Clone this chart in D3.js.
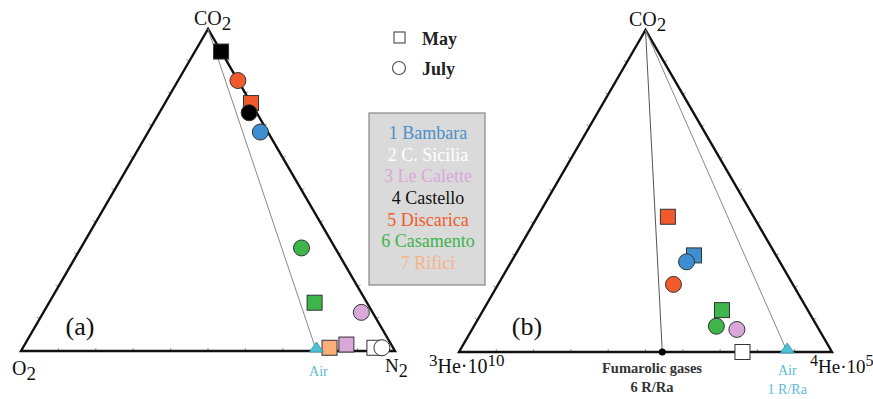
<!DOCTYPE html>
<html>
<head>
<meta charset="utf-8">
<script src="https://cdn.jsdelivr.net/npm/d3@7"></script>
<style>
  body { margin: 0; background: #fff; }
  svg { display: block; }
  text { font-family: "Liberation Serif", "DejaVu Serif", serif; }
</style>
</head>
<body>
<svg width="873" height="399"></svg>
<script>
// sites and their colours
const sites = ["1 Bambara", "2 C. Sicilia", "3 Le Calette", "4 Castello", "5 Discarica", "6 Casamento", "7 Rifici"];
const siteColors = ["#3d8fd1", "#ffffff", "#d9a7d9", "#000000", "#f15a2b", "#3db54a", "#fbae78"];
const legendText = ["#4a8fc9", "#ffffff", "#d8a8dc", "#111111", "#f05a2a", "#3cb54a", "#f8b388"];

// (a) CO2 - O2 - N2 (%), site index
const mayA = [ // [site, CO2, O2, N2]
  [3, 93, 0, 7],
  [4, 77, 0, 23],
  [5, 15, 14, 71],
  [6, 1, 17, 82],
  [2, 2, 12, 86],
  [1, 1, 5, 94]
];
const julyA = [
  [4, 84, 0, 16],
  [3, 74, 2, 24],
  [0, 68, 2, 30],
  [5, 32, 9, 59],
  [2, 12, 3, 85],
  [1, 1, 3, 96]
];
const airA = [0, 21, 79];

// (b) CO2 - 3He*10^10 - 4He*10^5 (%)
const mayB = [ // [site, CO2, 3He, 4He]
  [4, 42, 23, 35],
  [0, 30, 22, 48],
  [5, 13, 23, 64],
  [1, 0, 24, 76]
];
const julyB = [
  [0, 28, 25, 47],
  [4, 21, 32, 47],
  [5, 8, 27, 65],
  [2, 7, 22, 71]
];
const airB = [0, 12, 88];
const fumarolicB = [0, 45.5, 54.5];

const svg = d3.select("svg");

function ternary(left, right, bottom, top) {
  const x = d3.scaleLinear().domain([0, 100]).range([left, right]);
  const y = d3.scaleLinear().domain([0, 100]).range([bottom, top]);
  // v = [top, bottomLeft, bottomRight]
  const pos = v => {
    const s = v[0] + v[1] + v[2];
    const a = v[0] / s * 100, c = v[2] / s * 100;
    return [x(c + a / 2), y(a)];
  };
  return { x, y, pos };
}

function drawFrame(t, g) {
  const A = t.pos([100, 0, 0]), L = t.pos([0, 100, 0]), R = t.pos([0, 0, 100]);
  // ticks every 10%
  const tk = [];
  d3.range(10, 100, 10).forEach(p => {
    tk.push([t.pos([0, 100 - p, p]), [0, -3]]);
    tk.push([t.pos([p, 100 - p, 0]), [-3, -1.7]]);
    tk.push([t.pos([p, 0, 100 - p]), [3, -1.7]]);
  });
  g.append("g").selectAll("line").data(tk).join("line")
    .attr("x1", d => d[0][0]).attr("y1", d => d[0][1])
    .attr("x2", d => d[0][0] + d[1][0]).attr("y2", d => d[0][1] + d[1][1])
    .attr("stroke", "#999").attr("stroke-width", 1);
  g.append("path")
    .attr("d", d3.line()([A, L, R]) + "Z")
    .attr("fill", "none").attr("stroke", "#111").attr("stroke-width", 2.4);
  return { A, L, R };
}

function drawPoints(t, g, may, july) {
  g.append("g").selectAll("rect").data(may).join("rect")
    .attr("x", d => t.pos(d.slice(1))[0] - 7.5)
    .attr("y", d => t.pos(d.slice(1))[1] - 7.5)
    .attr("width", 15).attr("height", 15)
    .attr("fill", d => siteColors[d[0]])
    .attr("stroke", "#333").attr("stroke-width", 1);
  g.append("g").selectAll("circle").data(july).join("circle")
    .attr("cx", d => t.pos(d.slice(1))[0])
    .attr("cy", d => t.pos(d.slice(1))[1])
    .attr("r", 8)
    .attr("fill", d => siteColors[d[0]])
    .attr("stroke", "#333").attr("stroke-width", 1);
}

function airMark(g, p) {
  g.append("path")
    .attr("d", `M${p[0] - 7},${p[1] + 1}L${p[0]},${p[1] - 9}L${p[0] + 7},${p[1] + 1}Z`)
    .attr("fill", "#4fc1d6").attr("stroke", "#2b8fa6").attr("stroke-width", 0.8);
}

// text with sub/superscripts
function chem(g, xx, yy, anchor, parts, size) {
  const t = g.append("text").attr("x", xx).attr("y", yy)
    .attr("text-anchor", anchor).attr("font-size", size).attr("fill", "#111");
  parts.forEach(p => {
    const s = t.append("tspan").text(p.t);
    if (p.sub) s.attr("font-size", size * 0.95).attr("dy", 5);
    if (p.sup) s.attr("font-size", size * 0.85).attr("dy", -7);
    if (p.back) s.attr("dy", p.back);
  });
  return t;
}

// ---- (a)
const ta = ternary(21, 395, 351, 29);
const ga = svg.append("g");
const fa = drawFrame(ta, ga);
const airPa = ta.pos(airA);
ga.append("line")
  .attr("x1", fa.A[0]).attr("y1", fa.A[1]).attr("x2", airPa[0]).attr("y2", airPa[1])
  .attr("stroke", "#888").attr("stroke-width", 1);
drawPoints(ta, ga, mayA, julyA);
airMark(ga, airPa);

chem(ga, 194, 25, "start", [{ t: "CO" }, { t: "2", sub: true }], 20);
chem(ga, 12, 375, "start", [{ t: "O" }, { t: "2", sub: true }], 20);
chem(ga, 385, 372, "start", [{ t: "N" }, { t: "2", sub: true }], 19);
ga.append("text").attr("x", 80).attr("y", 335).attr("text-anchor", "middle")
  .attr("font-size", 26).attr("fill", "#111").text("(a)");
ga.append("text").attr("x", airPa[0] + 2).attr("y", 376).attr("text-anchor", "middle")
  .attr("font-size", 14).attr("fill", "#5bbcd4").text("Air");

// ---- (b)
const tb = ternary(459, 832, 352, 30);
const gb = svg.append("g");
const fb = drawFrame(tb, gb);
const airPb = tb.pos(airB);
const fumPb = tb.pos(fumarolicB);
gb.append("line")
  .attr("x1", fb.A[0]).attr("y1", fb.A[1]).attr("x2", fumPb[0]).attr("y2", fumPb[1])
  .attr("stroke", "#555").attr("stroke-width", 1);
gb.append("line")
  .attr("x1", fb.A[0]).attr("y1", fb.A[1]).attr("x2", airPb[0]).attr("y2", airPb[1])
  .attr("stroke", "#888").attr("stroke-width", 1);
gb.append("circle").attr("cx", fumPb[0]).attr("cy", fumPb[1]).attr("r", 3.5).attr("fill", "#000");
drawPoints(tb, gb, mayB, julyB);
airMark(gb, airPb);

chem(gb, 629, 26, "start", [{ t: "CO" }, { t: "2", sub: true }], 20);
chem(gb, 429, 373, "start", [{ t: "3", sup: true }, { t: "He·10", back: 7 }, { t: "10", sup: true }], 20);
chem(gb, 810, 373, "start", [{ t: "4", sup: true }, { t: "He·10", back: 7 }, { t: "5", sup: true }], 19);
gb.append("text").attr("x", 527).attr("y", 335).attr("text-anchor", "middle")
  .attr("font-size", 26).attr("fill", "#111").text("(b)");
gb.append("text").attr("x", 652).attr("y", 373).attr("text-anchor", "middle")
  .attr("font-size", 14.5).attr("font-weight", "bold").attr("fill", "#333").text("Fumarolic gases");
gb.append("text").attr("x", 652).attr("y", 392).attr("text-anchor", "middle")
  .attr("font-size", 14.5).attr("font-weight", "bold").attr("fill", "#333").text("6 R/Ra");
gb.append("text").attr("x", airPb[0]).attr("y", 375).attr("text-anchor", "middle")
  .attr("font-size", 14).attr("fill", "#5bbcd4").text("Air");
gb.append("text").attr("x", airPb[0]).attr("y", 394).attr("text-anchor", "middle")
  .attr("font-size", 14).attr("fill", "#5bbcd4").text("1 R/Ra");

// ---- legends
const lg = svg.append("g");
lg.append("rect").attr("x", 394).attr("y", 32).attr("width", 11).attr("height", 11)
  .attr("fill", "#fff").attr("stroke", "#555").attr("stroke-width", 1.2);
lg.append("text").attr("x", 422).attr("y", 45).attr("font-size", 18).attr("font-weight", "bold")
  .attr("fill", "#222").text("May");
lg.append("circle").attr("cx", 399).attr("cy", 68).attr("r", 6.5)
  .attr("fill", "#fff").attr("stroke", "#555").attr("stroke-width", 1.2);
lg.append("text").attr("x", 422).attr("y", 75).attr("font-size", 18).attr("font-weight", "bold")
  .attr("fill", "#222").text("July");

lg.append("rect").attr("x", 369).attr("y", 113).attr("width", 116).attr("height", 172)
  .attr("fill", "#dadada").attr("stroke", "#888").attr("stroke-width", 1.2);
const ly = d3.scalePoint().domain(sites).range([139, 269]);
lg.append("g").selectAll("text").data(sites).join("text")
  .attr("x", 428).attr("y", d => ly(d))
  .attr("text-anchor", "middle").attr("font-size", 18)
  .attr("fill", (d, i) => legendText[i]).text(d => d);
</script>
</body>
</html>
